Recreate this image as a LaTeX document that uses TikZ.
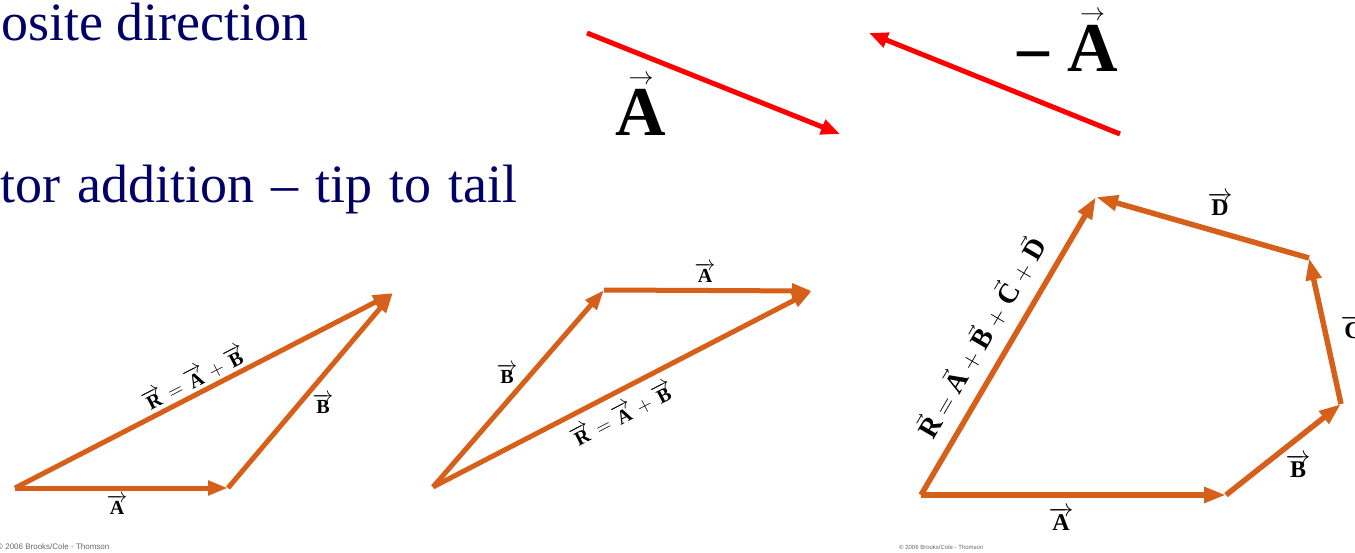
\documentclass[tikz,border=0pt]{standalone}
\usepackage{fontspec}
\setmainfont{Liberation Serif}
\newfontfamily\copyfont{Liberation Sans}
\usetikzlibrary{arrows.meta}
\definecolor{navy}{RGB}{0,0,102}
\definecolor{vorange}{RGB}{214,95,26}
\definecolor{vred}{RGB}{255,0,0}
\newcommand\vlab[1]{\ensuremath{\overrightarrow{\hbox{\bfseries #1}}}}
\newcommand\vsm[1]{\ensuremath{\vec{\hbox{\bfseries #1}}}}
\newcommand\bigvec[1]{\ensuremath{\mathop{\hbox{\fontsize{70}{70}\selectfont\bfseries #1}}\limits^{\raisebox{3pt}{\fontsize{30}{30}\selectfont$\rightarrow$}}}}
\begin{document}
\begin{tikzpicture}[x=1pt,y=-1pt,
  title/.style={text=navy,inner sep=0pt,font=\fontsize{54}{60}\selectfont},
  redvec/.style={draw=vred,line width=5pt,-{Triangle[length=19pt,width=15pt]}},
  orvec/.style={draw=vorange,line width=5pt,-{Triangle[length=20pt,width=14pt]}},
  polyvec/.style={draw=vorange,line width=5.5pt,-{Triangle[length=22pt,width=15pt]}},
  lab/.style={inner sep=0pt,font=\fontsize{20}{22}\selectfont},
  plab/.style={inner sep=0pt,font=\fontsize{24}{26}\selectfont},
  biglab/.style={inner sep=0pt,anchor=base},
  copy/.style={inner sep=0pt,anchor=base west,text=black!60}]
\useasboundingbox (0,0) rectangle (1355,553);
\clip (0,0) rectangle (1355,553);

% titles
\node[title,anchor=base east] (t1) at (309,40.5) {osite direction};
\node[title,anchor=base west] (t2) at (0,203) {\spaceskip=17pt tor addition – tip to tail};

% red vectors
\coordinate (ra0) at (587,33);
\coordinate (ra1) at (840,134);
\coordinate (rb0) at (1120,134);
\coordinate (rb1) at (869,33);
\draw[redvec] (ra0) -- (ra1);
\draw[redvec] (rb0) -- (rb1);
\node[biglab] (la) at (641,136) {\bigvec{A}};
\node[biglab,anchor=base east] (lma) at (1118,72) {\raisebox{-6pt}{\fontsize{70}{70}\selectfont\bfseries −}\hspace{14pt}\bigvec{A}};

% triangle 1
\coordinate (p1) at (15,488);
\coordinate (p2) at (228,488);
\coordinate (p3) at (393,293);
\draw[orvec] (p1) -- (p2);
\draw[orvec] (p2) -- (p3);
\draw[orvec] (p1) -- (p3);
\node[lab] (l1a) at (117,505) {\vlab{A}};
\node[lab] (l1b) at (323,404) {\vlab{B}};
\node[lab,rotate=27.3] (l1r) at (194,378) {\vlab{R}${}={}$\vlab{A}${}+{}$\vlab{B}};

% triangle 2
\coordinate (q1) at (433,487);
\coordinate (q2) at (604,290);
\coordinate (q3) at (812,291);
\draw[orvec] (q1) -- (q2);
\draw[orvec] (q2) -- (q3);
\draw[orvec] (q1) -- (q3);
\node[lab] (l2a) at (705,273) {\vlab{A}};
\node[lab] (l2b) at (507,374) {\vlab{B}};
\node[lab,rotate=27.3] (l2r) at (622,414) {\vlab{R}${}={}$\vlab{A}${}+{}$\vlab{B}};

% polygon
\coordinate (s0) at (921,495);
\coordinate (s1) at (1226,495);
\coordinate (s2) at (1341,404);
\coordinate (s3) at (1309,258);
\coordinate (s4) at (1096,197);
\draw[polyvec] (s0) -- (s1);
\draw[polyvec] (s1) -- (s2);
\draw[polyvec] (s2) -- (s3);
\draw[polyvec] (s3) -- (s4);
\draw[polyvec] (s0) -- (s4);
\node[plab] (lpa) at (1061,519) {\vlab{A}};
\node[plab] (lpb) at (1298,466) {\vlab{B}};
\node[plab] (lpc) at (1353,327) {\vlab{C}};
\node[plab] (lpd) at (1220,204) {\vlab{D}};
\node[plab,rotate=59.6,font=\fontsize{28}{30}\selectfont] (lpr) at (980,337)
  {\vsm{R}$\;=\;$\vsm{A}$\;+\;$\vsm{B}$\;+\;$\vsm{C}$\;+\;$\vsm{D}};

% copyright
\node[copy,font=\copyfont\fontsize{8}{9}\selectfont] (c1) at (-3,549) {© 2006 Brooks/Cole - Thomson};
\node[copy,font=\copyfont\fontsize{6}{7}\selectfont] (c2) at (899,549) {© 2006 Brooks/Cole - Thomson};
\end{tikzpicture}
\end{document}
